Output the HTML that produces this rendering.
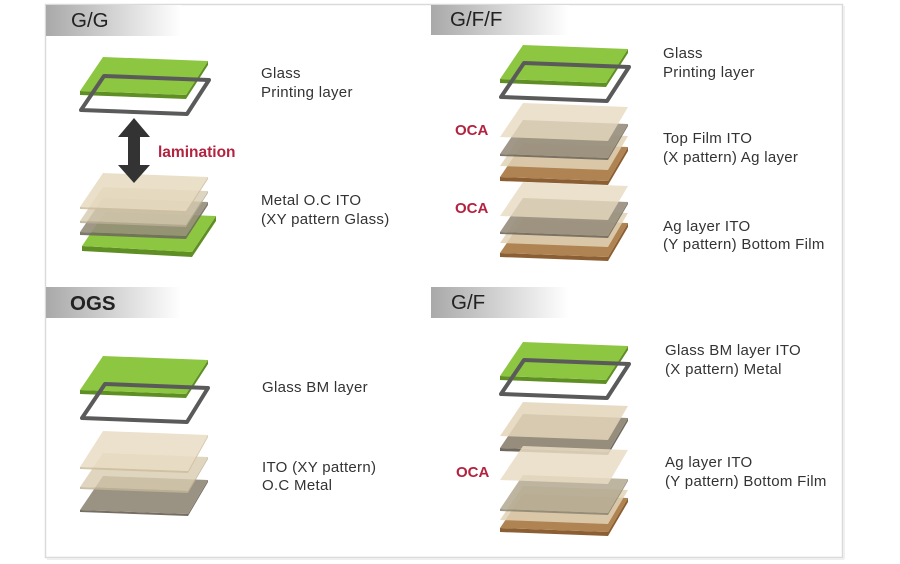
<!DOCTYPE html>
<html>
<head>
<meta charset="utf-8">
<style>
  html,body{margin:0;padding:0;background:#fff;}
  body{width:900px;height:564px;overflow:hidden;}
  svg{display:block;}
  .lbl{font-family:"Liberation Sans",Arial,sans-serif;font-size:15px;fill:#333;letter-spacing:0.3px;}
  .hdr{font-family:"Liberation Sans",Arial,sans-serif;font-size:20.5px;fill:#222;}
  .red{font-family:"Liberation Sans",Arial,sans-serif;font-size:15px;font-weight:bold;fill:#b3223f;}
</style>
</head>
<body>
<svg width="900" height="564" viewBox="0 0 900 564" xmlns="http://www.w3.org/2000/svg">
  <defs>
    <linearGradient id="hg" x1="0" y1="0" x2="1" y2="0">
      <stop offset="0" stop-color="#a9a9a9"/>
      <stop offset="0.45" stop-color="#cfcfcf"/>
      <stop offset="1" stop-color="#ffffff"/>
    </linearGradient>
  </defs>

  <!-- outer border -->
  <rect x="45.5" y="4.5" width="797" height="553" fill="none" stroke="#dadada" stroke-width="1.5"/>
  <line x1="844" y1="6" x2="844" y2="559" stroke="#efefef" stroke-width="2"/>
  <line x1="47" y1="559" x2="844" y2="559" stroke="#efefef" stroke-width="2"/>

  <!-- headers -->
  <rect x="46" y="5" width="135" height="31" fill="url(#hg)"/>
  <text class="hdr" x="71" y="27">G/G</text>
  <rect x="431" y="5" width="138" height="30" fill="url(#hg)"/>
  <text class="hdr" x="450" y="26">G/F/F</text>
  <rect x="46" y="287" width="135" height="31" fill="url(#hg)"/>
  <text class="hdr" x="70" y="310" style="font-weight:bold">OGS</text>
  <rect x="431" y="287" width="138" height="31" fill="url(#hg)"/>
  <text class="hdr" x="451" y="309">G/F</text>

  <!-- ===== G/G ===== -->
  <!-- top glass -->
  <g transform="translate(80,57)">
    <polygon points="0,34 106,38 128,4 128,8 106,42 0,38" fill="#5f8f24"/>
    <polygon points="23,0 128,4 106,38 0,34" fill="#8dc641"/>
  </g>
  <g transform="translate(81,76)">
    <polygon points="23,0 128,4 106,38 0,34" fill="none" stroke="#5a5a5a" stroke-width="4" stroke-linejoin="round"/>
  </g>
  <!-- bottom stack -->
  <g transform="translate(82,212)">
    <polygon points="0,34 110,40 134,4 134,9 110,45 0,39" fill="#5f8f24"/>
    <polygon points="23,0 134,4 110,40 0,34" fill="#8dc641"/>
  </g>
  <g transform="translate(80,198)">
    <polygon points="0,34 106,38 128,4 128,7 106,41 0,37" fill="#6f6a5c" fill-opacity="0.9"/>
    <polygon points="23,0 128,4 106,38 0,34" fill="#958d79" fill-opacity="0.9"/>
  </g>
  <g transform="translate(80,187)">
    <polygon points="0,34 106,38 128,4 128,6 106,40 0,36" fill="#b8ad95" fill-opacity="0.85"/>
    <polygon points="23,0 128,4 106,38 0,34" fill="#d6cab0" fill-opacity="0.8"/>
  </g>
  <g transform="translate(80,173)">
    <polygon points="0,34 106,38 128,4 128,6 106,40 0,36" fill="#cdbf9f" fill-opacity="0.9"/>
    <polygon points="23,0 128,4 106,38 0,34" fill="#e6d9bf" fill-opacity="0.85"/>
  </g>
  <!-- arrow (on top of layers) -->
  <polygon points="134,118 150,137 140,137 140,165 150,165 134,183 118,165 128,165 128,137 118,137" fill="#333"/>
  <text class="red" x="158" y="157" style="font-size:15.5px">lamination</text>
  <text class="lbl" x="261" y="78">Glass</text>
  <text class="lbl" x="261" y="97">Printing layer</text>
  <text class="lbl" x="261" y="205">Metal O.C ITO</text>
  <text class="lbl" x="261" y="224">(XY pattern Glass)</text>

  <!-- ===== G/F/F ===== -->
  <g transform="translate(500,45)">
    <polygon points="0,34 106,38 128,4 128,8 106,42 0,38" fill="#5f8f24"/>
    <polygon points="23,0 128,4 106,38 0,34" fill="#8dc641"/>
  </g>
  <g transform="translate(501,63)">
    <polygon points="23,0 128,4 106,38 0,34" fill="none" stroke="#5a5a5a" stroke-width="4" stroke-linejoin="round"/>
  </g>
  <!-- group 1 -->
  <g transform="translate(500,143)">
    <polygon points="0,34 108,38 128,4 128,8 108,42 0,38" fill="#8b5f33"/>
    <polygon points="23,0 128,4 108,38 0,34" fill="#b08352"/>
  </g>
  <g transform="translate(500,132)">
    <polygon points="23,0 128,4 108,38 0,34" fill="#e0d3b6" fill-opacity="0.85"/>
  </g>
  <g transform="translate(500,120)">
    <polygon points="0,34 108,38 128,4 128,6 108,40 0,36" fill="#6f685c" fill-opacity="0.9"/>
    <polygon points="23,0 128,4 108,38 0,34" fill="#978d7c" fill-opacity="0.9"/>
  </g>
  <g transform="translate(500,103)">
    <polygon points="23,0 128,4 108,38 0,34" fill="#e6d9bf" fill-opacity="0.8"/>
  </g>
  <!-- group 2 -->
  <g transform="translate(500,219)">
    <polygon points="0,34 108,38 128,4 128,8 108,42 0,38" fill="#8b5f33"/>
    <polygon points="23,0 128,4 108,38 0,34" fill="#b08352"/>
  </g>
  <g transform="translate(500,209)">
    <polygon points="23,0 128,4 108,38 0,34" fill="#e0d3b6" fill-opacity="0.85"/>
  </g>
  <g transform="translate(500,198)">
    <polygon points="0,34 108,38 128,4 128,6 108,40 0,36" fill="#6f685c" fill-opacity="0.9"/>
    <polygon points="23,0 128,4 108,38 0,34" fill="#978d7c" fill-opacity="0.9"/>
  </g>
  <g transform="translate(500,182)">
    <polygon points="23,0 128,4 108,38 0,34" fill="#e6d9bf" fill-opacity="0.8"/>
  </g>
  <text class="red" x="455" y="135">OCA</text>
  <text class="red" x="455" y="213">OCA</text>
  <text class="lbl" x="663" y="58">Glass</text>
  <text class="lbl" x="663" y="77">Printing layer</text>
  <text class="lbl" x="663" y="143">Top Film ITO</text>
  <text class="lbl" x="663" y="162">(X pattern) Ag layer</text>
  <text class="lbl" x="663" y="231">Ag layer ITO</text>
  <text class="lbl" x="663" y="249">(Y pattern) Bottom Film</text>

  <!-- ===== OGS ===== -->
  <g transform="translate(80,356)">
    <polygon points="0,34 106,38 128,4 128,8 106,42 0,38" fill="#5f8f24"/>
    <polygon points="23,0 128,4 106,38 0,34" fill="#8dc641"/>
  </g>
  <g transform="translate(82,384)">
    <polygon points="23,0 126,4 105,38 0,34" fill="none" stroke="#5a5a5a" stroke-width="4" stroke-linejoin="round"/>
  </g>
  <g transform="translate(80,476)">
    <polygon points="0,34 108,38 128,4 128,6 108,40 0,36" fill="#756e62"/>
    <polygon points="23,0 128,4 108,38 0,34" fill="#9a9282"/>
  </g>
  <g transform="translate(80,453)">
    <polygon points="0,34 108,38 128,4 128,6 108,40 0,36" fill="#bfb396" fill-opacity="0.85"/>
    <polygon points="23,0 128,4 108,38 0,34" fill="#d8ccb0" fill-opacity="0.8"/>
  </g>
  <g transform="translate(80,431)">
    <polygon points="0,36 108,40 128,4 128,6 108,42 0,38" fill="#cdbf9f" fill-opacity="0.9"/>
    <polygon points="23,0 128,4 108,40 0,36" fill="#e9dcc3" fill-opacity="0.85"/>
  </g>
  <text class="lbl" x="262" y="392">Glass BM layer</text>
  <text class="lbl" x="262" y="472">ITO (XY pattern)</text>
  <text class="lbl" x="262" y="490">O.C Metal</text>

  <!-- ===== G/F ===== -->
  <g transform="translate(500,342)">
    <polygon points="0,34 106,38 128,4 128,8 106,42 0,38" fill="#5f8f24"/>
    <polygon points="23,0 128,4 106,38 0,34" fill="#8dc641"/>
  </g>
  <g transform="translate(501,360)">
    <polygon points="23,0 128,4 106,38 0,34" fill="none" stroke="#5a5a5a" stroke-width="4" stroke-linejoin="round"/>
  </g>
  <!-- group 1 -->
  <g transform="translate(500,414)">
    <polygon points="0,34 108,38 128,4 128,7 108,41 0,37" fill="#6f685c"/>
    <polygon points="23,0 128,4 108,38 0,34" fill="#978d7c"/>
  </g>
  <g transform="translate(500,402)">
    <polygon points="23,0 128,4 108,38 0,34" fill="#e3d5ba" fill-opacity="0.85"/>
  </g>
  <!-- group 2 -->
  <g transform="translate(500,494)">
    <polygon points="0,34 108,38 128,4 128,8 108,42 0,38" fill="#8b5f33"/>
    <polygon points="23,0 128,4 108,38 0,34" fill="#b08352"/>
  </g>
  <g transform="translate(500,486)">
    <polygon points="23,0 128,4 108,38 0,34" fill="#e0d3b6" fill-opacity="0.85"/>
  </g>
  <g transform="translate(500,475)">
    <polygon points="0,34 108,38 128,4 128,6 108,40 0,36" fill="#8a8271" fill-opacity="0.85"/>
    <polygon points="23,0 128,4 108,38 0,34" fill="#b3a891" fill-opacity="0.85"/>
  </g>
  <g transform="translate(500,446)">
    <polygon points="23,0 128,4 108,38 0,34" fill="#e9dcc3" fill-opacity="0.85"/>
  </g>
  <text class="red" x="456" y="477">OCA</text>
  <text class="lbl" x="665" y="355">Glass BM layer ITO</text>
  <text class="lbl" x="665" y="374">(X pattern) Metal</text>
  <text class="lbl" x="665" y="467">Ag layer ITO</text>
  <text class="lbl" x="665" y="486">(Y pattern) Bottom Film</text>
</svg>
</body>
</html>
